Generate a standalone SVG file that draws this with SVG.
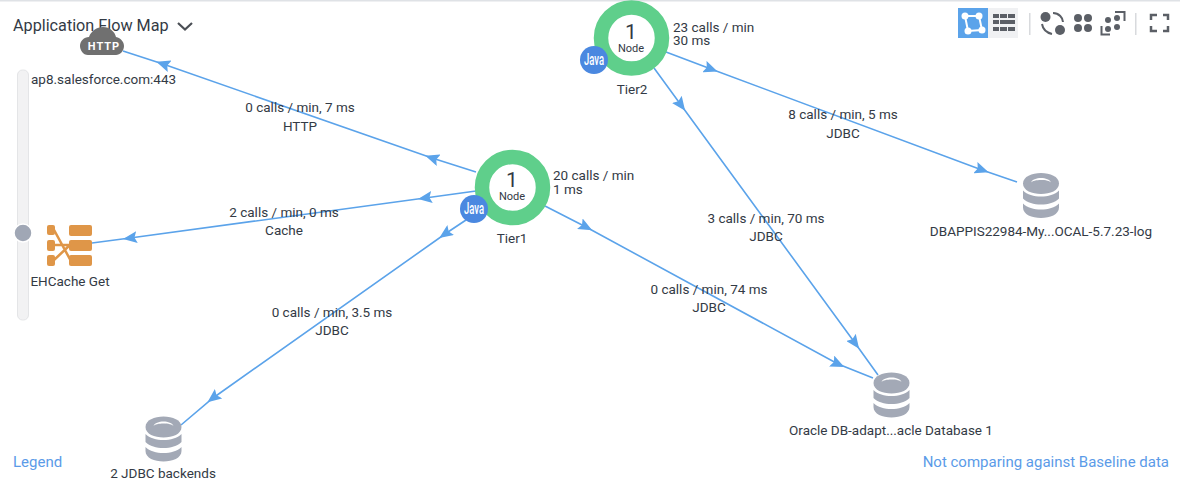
<svg xmlns="http://www.w3.org/2000/svg" width="1180" height="481" viewBox="0 0 1180 481">
<style>
text{font-family:Roboto,"Liberation Sans",sans-serif;font-size:13.5px;fill:#333a45}
.m{text-anchor:middle}
.conn{fill:none;stroke:#5ba3ea;stroke-width:1.6;marker-mid:url(#arr)}
.ring{fill:#fff;stroke:#5fcf8b;stroke-width:14.5}
.java{fill:#4a88e0}
.javat{font-size:16px;font-weight:500;fill:#fff;text-anchor:middle}
.db{fill:#a3a9b6}
.cache{fill:#df9648}
.ic{fill:#5b5f66}
.link{fill:#5b9be8;font-size:15px}
</style>
<defs>
<marker id="arr" viewBox="0 0 14 12" refX="7" refY="6" markerWidth="14" markerHeight="12" markerUnits="userSpaceOnUse" orient="auto">
<path d="M0 0L14 6L0 12L2.500 6Z" fill="#5ba3ea"/>
</marker>
<g id="dbicon">
<path class="db" d="M-18 -9C-18 -23 18 -23 18 -9C18 5 -18 5 -18 -9Z"/>
<path d="M-10 -10C-8 -16 8 -16 10 -10C8 -13.500 -8 -13.500 -10 -10Z" fill="#fff"/>
<path class="db" d="M-18 -2C-10 6 10 6 18 -2V6C10 14 -10 14 -18 6Z"/>
<path class="db" d="M-18 11C-10 19 10 19 18 11V15C18 29 -18 29 -18 15Z"/>
</g>
</defs>
<rect width="1180" height="481" fill="#fff"/>
<rect x="0" y="0" width="1180" height="1.500" fill="#dfe2e6"/>

<g id="connectors">
<polyline class="conn" points="476,172 432,158 163,64 123,51"/>
<polyline class="conn" points="476,191 425,198 130,238 92,243"/>
<polyline class="conn" points="466,220 445,234 213,398 181,425"/>
<polyline class="conn" points="545,206 586,227 838,364 873,378"/>
<polyline class="conn" points="666,52 711,69 982,170 1017,182"/>
<polyline class="conn" points="654,68 681,105 855,343 878,375"/>
</g>

<g id="labels">
<text class="m" x="300" y="112">0 calls / min, 7 ms</text>
<text class="m" x="300" y="131">HTTP</text>
<text class="m" x="284" y="217">2 calls / min, 0 ms</text>
<text class="m" x="284" y="235">Cache</text>
<text class="m" x="332" y="317">0 calls / min, 3.5 ms</text>
<text class="m" x="332" y="335">JDBC</text>
<text class="m" x="709" y="294">0 calls / min, 74 ms</text>
<text class="m" x="709" y="312">JDBC</text>
<text class="m" x="766" y="223">3 calls / min, 70 ms</text>
<text class="m" x="766" y="241">JDBC</text>
<text class="m" x="843" y="119">8 calls / min, 5 ms</text>
<text class="m" x="843" y="138">JDBC</text>
</g>

<g id="title">
<text x="13" y="31" style="font-size:16.200px">Application Flow Map</text>
<path d="M178 23L185 29.500L192 23" fill="none" stroke="#4b4f55" stroke-width="2.200"/>
</g>

<g id="zoom-slider">
<rect x="17.500" y="70" width="11" height="250" rx="5" fill="#f2f2f3" stroke="#e4e5e7"/>
<circle cx="23" cy="233" r="9" fill="#a0a7b5" stroke="#fff" stroke-width="1.500"/>
</g>

<g id="node-http">
<path d="M88 55C83 55 80 50 80 46C80 41 84 37 89 37C91 31 97 27 103 27C110 27 115 32 116 37C121 38 124 42 124 46C124 51 120 55 116 55Z" fill="#707070"/>
<text class="m" x="104" y="50" style="font-size:11px;font-weight:700;fill:#fff;letter-spacing:1px">HTTP</text>
<text x="31" y="84">ap8.salesforce.com:443</text>
</g>

<g id="node-ehcache">
<g class="cache">
<rect x="47" y="225" width="8" height="10" rx="2"/>
<rect x="47" y="240" width="8" height="11" rx="2"/>
<rect x="47" y="255" width="8" height="11" rx="2"/>
<rect x="69" y="225" width="23" height="11" rx="2"/>
<rect x="69" y="240" width="23" height="11" rx="2"/>
<rect x="69" y="255" width="23" height="11" rx="2"/>
</g>
<path d="M53 228L72 263M53 245H70M54 260L70 245" stroke="#df9648" stroke-width="2.500" fill="none"/>
<text class="m" x="70" y="286">EHCache Get</text>
</g>

<g id="node-tier1">
<circle class="ring" cx="512.500" cy="187.500" r="30.500"/>
<text class="m" x="512" y="187" style="font-size:21px">1</text>
<text class="m" x="512" y="199.500" style="font-size:11px">Node</text>
<circle class="java" cx="474" cy="209" r="14"/>
<text class="javat" x="474" y="214" textLength="20" lengthAdjust="spacingAndGlyphs">Java</text>
<text class="m" x="512" y="243">Tier1</text>
<text x="553" y="179.500">20 calls / min</text>
<text x="553" y="194">1 ms</text>
</g>

<g id="node-tier2">
<circle class="ring" cx="631.500" cy="38" r="30.500"/>
<text class="m" x="631" y="39" style="font-size:21px">1</text>
<text class="m" x="631" y="51.500" style="font-size:11px">Node</text>
<circle class="java" cx="594" cy="60" r="14"/>
<text class="javat" x="594" y="65" textLength="20" lengthAdjust="spacingAndGlyphs">Java</text>
<text class="m" x="632" y="94">Tier2</text>
<text x="673" y="32">23 calls / min</text>
<text x="673" y="45">30 ms</text>
</g>

<g id="node-dbappis">
<use href="#dbicon" x="1041" y="192.500"/>
<text class="m" x="1041" y="236">DBAPPIS22984-My...OCAL-5.7.23-log</text>
</g>

<g id="node-oracle">
<use href="#dbicon" x="891.500" y="392"/>
<text class="m" x="891" y="435">Oracle DB-adapt...acle Database 1</text>
</g>

<g id="node-jdbc">
<use href="#dbicon" x="163.500" y="436"/>
<text class="m" x="163" y="478">2 JDBC backends</text>
</g>

<g id="toolbar">
<rect x="958" y="8" width="30" height="30" fill="#5ba3ea"/>
<rect x="988" y="8" width="30" height="30" fill="#f0f1f3"/>
<path d="M965 16L979 16L982 30L968 31Z" fill="none" stroke="#fff" stroke-width="2"/>
<g fill="#fff"><circle cx="965" cy="16" r="3.500"/><circle cx="979" cy="16" r="3.500"/><circle cx="982" cy="30" r="3.500"/><circle cx="968" cy="31" r="3.500"/></g>
<g class="ic">
<rect x="993" y="14" width="6" height="4"/><rect x="1000" y="14" width="7" height="4"/><rect x="1008" y="14" width="7" height="4"/>
<rect x="993" y="20" width="6" height="4"/><rect x="1000" y="20" width="15" height="4"/>
<rect x="993" y="27" width="6" height="4"/><rect x="1000" y="27" width="7" height="4"/><rect x="1008" y="27" width="7" height="4"/>
<circle cx="1045.500" cy="17" r="5"/><circle cx="1060" cy="30" r="5"/>
<circle cx="1078" cy="18" r="4"/><circle cx="1088" cy="18" r="4"/><circle cx="1078" cy="28" r="4"/><circle cx="1088" cy="28" r="4"/>
<circle cx="1108" cy="20" r="3"/><circle cx="1117" cy="18" r="3"/><circle cx="1108" cy="29" r="3"/><circle cx="1117" cy="27" r="3"/>
</g>
<g fill="none" stroke="#5b5f66" stroke-width="2">
<path d="M1053 13C1059 13 1063 18 1063 22M1042 24C1043 30 1048 33 1052 34"/>
<path d="M1101.500 26V34.500H1110M1115 12H1124.500V21"/>
<path d="M1151 20V15H1157M1163 15H1168V20M1168 26V31H1163M1157 31H1151V26" stroke-width="2.500"/>
</g>
<rect x="1029" y="13" width="1.500" height="22" fill="#d8dadd"/>
<rect x="1135" y="13" width="1.500" height="22" fill="#d8dadd"/>
</g>

<g id="footer">
<text class="link" x="13" y="467">Legend</text>
<text class="link" x="1169" y="467" text-anchor="end">Not comparing against Baseline data</text>
</g>
</svg>
